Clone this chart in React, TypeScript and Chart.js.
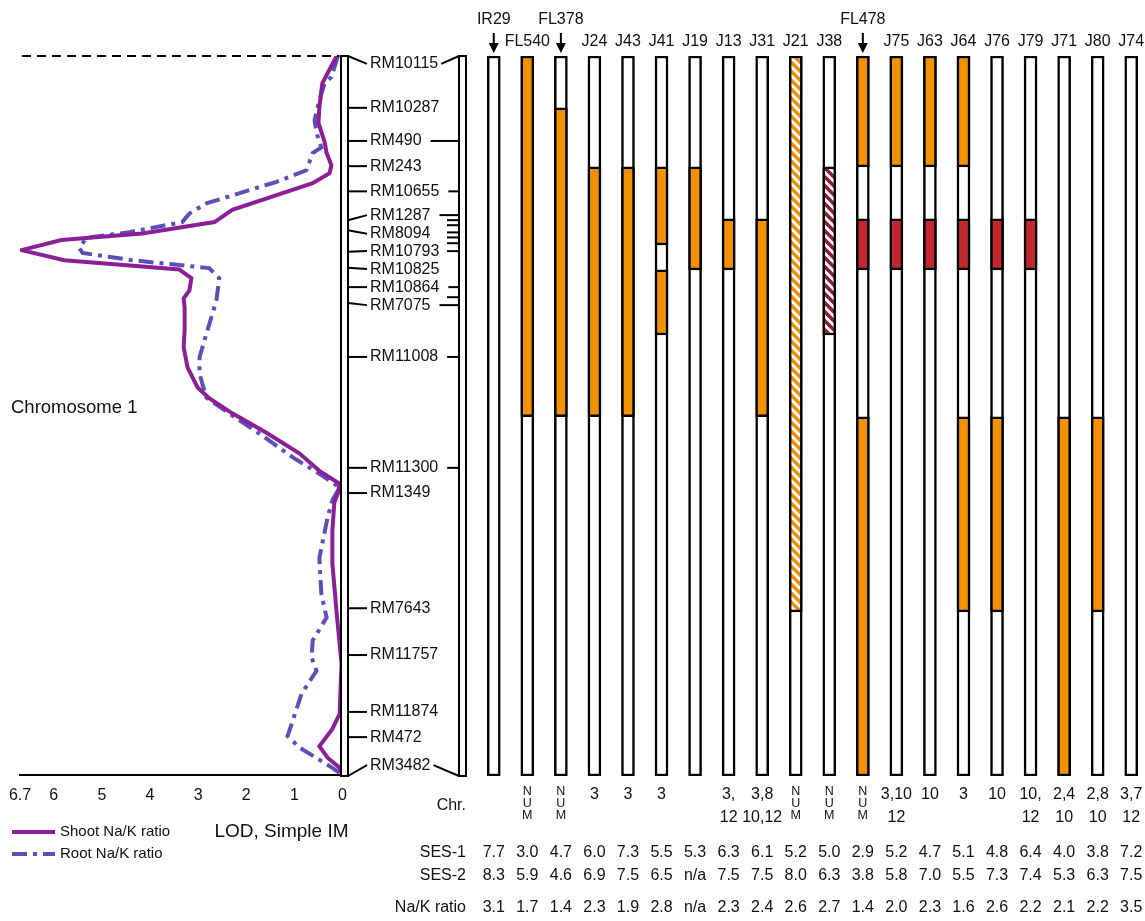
import React, { useEffect, useRef } from "react";
import { Chart, registerables } from "chart.js";

Chart.register(...registerables);

const FONT = '"Liberation Sans", Arial, Helvetica, sans-serif';

// ---- LOD profiles (position along chromosome 0 = top … 100 = bottom) ----
const SHOOT_POS = [0, 2.4, 3.8, 7.1, 9.3, 12.0, 13.5, 15.2, 16.3, 17.7, 21.4, 23.1, 24.7, 25.6, 27.0, 28.4, 29.7, 30.9, 32.6, 33.7, 35.0, 38.2, 40.5, 43.3, 46.1, 47.6, 49.7, 52.4, 55.3, 57.7, 59.5, 60.9, 62.1, 66.0, 70.6, 77.6, 84.5, 91.5, 93.6, 96.0, 97.6, 99.0, 100];
const SHOOT_LOD = [0.12, 0.31, 0.42, 0.48, 0.5, 0.37, 0.33, 0.23, 0.27, 0.62, 2.29, 2.66, 4.16, 5.84, 6.67, 5.78, 3.39, 3.14, 3.18, 3.3, 3.28, 3.28, 3.3, 3.22, 3.01, 2.77, 2.29, 1.58, 0.89, 0.48, 0.06, 0.1, 0.17, 0.21, 0.21, 0.12, 0.02, 0.06, 0.21, 0.48, 0.31, 0.06, 0];
const ROOT_POS = [0.1, 2.9, 3.8, 6.1, 8.9, 10.7, 12.7, 13.5, 15.9, 17.5, 20.5, 21.9, 23.1, 24.5, 25.3, 26.7, 27.4, 28.4, 29.5, 30.9, 34.0, 35.8, 39.6, 41.9, 44.2, 47.5, 50.0, 52.5, 55.8, 58.1, 60.0, 61.8, 64.2, 69.8, 74.8, 78.1, 81.3, 83.7, 85.5, 88.7, 94.6, 96.2, 99.0, 100];
const ROOT_LOD = [0.1, 0.23, 0.37, 0.48, 0.58, 0.54, 0.44, 0.62, 0.75, 1.37, 2.83, 3.18, 3.33, 4.43, 5.32, 5.47, 5.4, 4.37, 2.77, 2.56, 2.62, 2.7, 2.87, 2.97, 2.97, 2.83, 2.29, 1.73, 1.04, 0.48, 0.06, 0.21, 0.31, 0.48, 0.44, 0.33, 0.62, 0.64, 0.54, 0.85, 1.14, 0.89, 0.21, 0];
const LOD_TICKS = [6.7, 6, 5, 4, 3, 2, 1, 0];

// ---- markers ----
const MARKERS = ["RM10115", "RM10287", "RM490", "RM243", "RM10655", "RM1287", "RM8094", "RM10793", "RM10825", "RM10864", "RM7075", "RM11008", "RM11300", "RM1349", "RM7643", "RM11757", "RM11874", "RM472", "RM3482"];
const MARKER_POS = [0, 7.2, 11.8, 15.3, 18.8, 22.8, 24.2, 27.2, 29.4, 32.1, 34.3, 41.8, 57.2, 60.7, 76.7, 83.2, 91.1, 94.6, 100];
const MARKER_LABEL_POS = [1.1, 7.2, 11.8, 15.3, 18.8, 22.1, 24.7, 27.1, 29.6, 32.1, 34.6, 41.8, 57.2, 60.7, 76.7, 83.2, 91.1, 94.6, 98.5];
const RIGHT_MAP_POS = [0, 11.8, 18.8, 22.1, 22.8, 23.5, 24.5, 25.2, 26.0, 27.1, 32.1, 33.5, 34.6, 41.8, 57.2, 100];
const RIGHT_MAP_MARKER = ["RM10115", "RM490", "RM10655", "RM1287", "", "", "", "", "", "", "RM10864", "", "RM7075", "RM11008", "RM11300", "RM3482"];

// ---- genotypes ----
const COLUMNS = ["IR29", "FL540", "FL378", "J24", "J43", "J41", "J19", "J13", "J31", "J21", "J38", "FL478", "J75", "J63", "J64", "J76", "J79", "J71", "J80", "J74"];
const ARROWED = ["IR29", "FL378", "FL478"];
const SEG_A = [null, [0, 50.1], [7.2, 50.1], [15.4, 50.1], [15.4, 50.1], [15.4, 26.25], [15.4, 29.7], [22.6, 29.7], [22.6, 50.1], [0, 77.2], [15.4, 38.75], [0, 15.4], [0, 15.4], [0, 15.4], [0, 15.4], [22.6, 29.7], [22.6, 29.7], [50.1, 100], [50.1, 77.2], null];
const TYPE_A = ["", "O", "O", "O", "O", "O", "O", "O", "O", "OH", "RH", "O", "O", "O", "O", "R", "R", "O", "O", ""];
const SEG_B = [null, null, null, null, null, [29.7, 38.75], null, null, null, null, null, [22.6, 29.7], [22.6, 29.7], [22.6, 29.7], [22.6, 29.7], [50.1, 77.2], null, null, null, null];
const TYPE_B = ["", "", "", "", "", "O", "", "", "", "", "", "R", "R", "R", "R", "O", "", "", "", ""];
const SEG_C = [null, null, null, null, null, null, null, null, null, null, null, [50.1, 100], null, null, [50.1, 77.2], null, null, null, null, null];
const TYPE_C = ["", "", "", "", "", "", "", "", "", "", "", "O", "", "", "O", "", "", "", "", ""];

// ---- table rows ----
const CHR_1 = ["", "NUM", "NUM", "3", "3", "3", "", "3,", "3,8", "NUM", "NUM", "NUM", "3,10", "10", "3", "10", "10,", "2,4", "2,8", "3,7"];
const CHR_2 = ["", "", "", "", "", "", "", "12", "10,12", "", "", "", "12", "", "", "", "12", "10", "10", "12"];
const SES_1 = [7.7, 3.0, 4.7, 6.0, 7.3, 5.5, 5.3, 6.3, 6.1, 5.2, 5.0, 2.9, 5.2, 4.7, 5.1, 4.8, 6.4, 4.0, 3.8, 7.2];
const SES_2 = [8.3, 5.9, 4.6, 6.9, 7.5, 6.5, null, 7.5, 7.5, 8.0, 6.3, 3.8, 5.8, 7.0, 5.5, 7.3, 7.4, 5.3, 6.3, 7.5];
const NAK_RATIO = [3.1, 1.7, 1.4, 2.3, 1.9, 2.8, null, 2.3, 2.4, 2.6, 2.7, 1.4, 2.0, 2.3, 1.6, 2.6, 2.2, 2.1, 2.2, 3.5];

const ORANGE = "#f39200";
const RED = "#c1272d";
const MAROON = "#8e1b3a";
const SHOOT_COLOR = "#8a1f98";
const ROOT_COLOR = "#5b4fb8";

function stripe(color: string) {
  const n = 9;
  const c = document.createElement("canvas");
  c.width = n;
  c.height = n;
  const g = c.getContext("2d")!;
  g.fillStyle = "#fff";
  g.fillRect(0, 0, n, n);
  g.strokeStyle = color;
  g.lineWidth = 3.5;
  g.beginPath();
  g.moveTo(-3, -3);
  g.lineTo(n + 3, n + 3);
  g.moveTo(-3, n - 3);
  g.lineTo(3, n + 3);
  g.moveTo(n - 3, -3);
  g.lineTo(n + 3, 3);
  g.stroke();
  return g.createPattern(c, "repeat");
}

const fmt = (v: number | null) => (v == null ? "n/a" : v.toFixed(1));

const lodDecor = {
  id: "lodDecor",
  afterDraw(chart: any) {
    const { ctx, chartArea: a } = chart;
    ctx.save();
    ctx.strokeStyle = "#000";
    ctx.lineWidth = 2;
    ctx.setLineDash([9, 6]);
    ctx.beginPath();
    ctx.moveTo(a.left + 2, a.top);
    ctx.lineTo(a.right - 3, a.top);
    ctx.stroke();
    ctx.setLineDash([]);
    ctx.fillStyle = "#111";
    ctx.textBaseline = "middle";
    ctx.font = `18.5px ${FONT}`;
    ctx.textAlign = "left";
    ctx.fillText("Chromosome 1", 11, a.top + 352);
    ctx.font = `19px ${FONT}`;
    ctx.textAlign = "right";
    ctx.fillText("LOD, Simple IM", a.right + 6, a.bottom + 57);
    chart.data.datasets.forEach((ds: any, i: number) => {
      const y = a.bottom + 57 + i * 22;
      ctx.strokeStyle = ds.borderColor;
      ctx.lineWidth = 4;
      ctx.setLineDash(ds.borderDash || []);
      ctx.beginPath();
      ctx.moveTo(12, y);
      ctx.lineTo(55, y);
      ctx.stroke();
      ctx.setLineDash([]);
      ctx.fillStyle = "#111";
      ctx.font = `15px ${FONT}`;
      ctx.textAlign = "left";
      ctx.fillText(ds.label, 60, y);
    });
    ctx.restore();
  },
};

const mapDecor = {
  id: "mapDecor",
  afterDraw(chart: any) {
    const { ctx, chartArea: a, scales } = chart;
    const py = (v: number) => scales.y.getPixelForValue(v);
    const colX = (i: number) => scales.x.getPixelForValue(i);
    const leftBar = a.left - 136;
    const rightBar = a.left - 18;
    const labelX = leftBar + 29;
    ctx.save();
    ctx.font = `16px ${FONT}`;
    [leftBar, rightBar].forEach((bx) => {
      ctx.fillStyle = "#fff";
      ctx.fillRect(bx, py(0), 7, py(100) - py(0));
      ctx.strokeStyle = "#000";
      ctx.lineWidth = 2;
      ctx.strokeRect(bx, py(0), 7, py(100) - py(0));
    });
    ctx.fillStyle = "#111";
    ctx.textBaseline = "middle";
    ctx.textAlign = "left";
    ctx.lineWidth = 2;
    ctx.strokeStyle = "#000";
    MARKERS.forEach((m, i) => {
      ctx.beginPath();
      ctx.moveTo(leftBar + 7, py(MARKER_POS[i]));
      ctx.lineTo(leftBar + 26, py(MARKER_LABEL_POS[i]));
      ctx.stroke();
      ctx.fillText(m, labelX, py(MARKER_LABEL_POS[i]));
    });
    RIGHT_MAP_POS.forEach((p, i) => {
      const name = RIGHT_MAP_MARKER[i];
      let sx = rightBar - 12;
      let sy = py(p);
      if (name) {
        const k = MARKERS.indexOf(name);
        const lp = MARKER_LABEL_POS[k];
        const w = ctx.measureText(name).width;
        sy = py(lp);
        sx = labelX + w + (lp !== p ? 3 : 9);
      }
      ctx.beginPath();
      ctx.moveTo(sx, sy);
      ctx.lineTo(rightBar, py(p));
      ctx.stroke();
    });
    ctx.textAlign = "center";
    COLUMNS.forEach((c, i) => {
      const x = colX(i);
      if (ARROWED.includes(c)) {
        ctx.fillText(c, x, a.top - 36);
        ctx.beginPath();
        ctx.moveTo(x, a.top - 23);
        ctx.lineTo(x, a.top - 10);
        ctx.stroke();
        ctx.beginPath();
        ctx.moveTo(x - 5, a.top - 13);
        ctx.lineTo(x + 5, a.top - 13);
        ctx.lineTo(x, a.top - 3);
        ctx.closePath();
        ctx.fillStyle = "#000";
        ctx.fill();
        ctx.fillStyle = "#111";
      } else {
        ctx.fillText(c, x, a.top - 14);
      }
    });
    const b = a.bottom;
    ctx.textAlign = "right";
    const rl = a.left - 11;
    ctx.fillText("Chr.", rl, b + 30);
    ctx.fillText("SES-1", rl, b + 77);
    ctx.fillText("SES-2", rl, b + 100);
    ctx.fillText("Na/K ratio", rl, b + 132);
    ctx.textAlign = "center";
    COLUMNS.forEach((_, i) => {
      const x = colX(i);
      if (CHR_1[i] === "NUM") {
        ctx.font = `12.5px ${FONT}`;
        ["N", "U", "M"].forEach((ch, j) => ctx.fillText(ch, x, b + 16 + j * 12));
        ctx.font = `16px ${FONT}`;
      } else {
        if (CHR_1[i]) ctx.fillText(CHR_1[i], x, b + 19);
        if (CHR_2[i]) ctx.fillText(CHR_2[i], x, b + 42);
      }
      ctx.fillText(fmt(SES_1[i]), x, b + 77);
      ctx.fillText(fmt(SES_2[i]), x, b + 100);
      ctx.fillText(fmt(NAK_RATIO[i]), x, b + 132);
    });
    ctx.restore();
  },
};

export default function App() {
  const lodRef = useRef<HTMLCanvasElement>(null);
  const mapRef = useRef<HTMLCanvasElement>(null);

  useEffect(() => {
    const fills: Record<string, any> = {
      O: ORANGE,
      R: RED,
      OH: stripe(ORANGE),
      RH: stripe(MAROON),
      "": "rgba(0,0,0,0)",
    };

    const lodChart = new Chart(lodRef.current!, {
      type: "line",
      data: {
        datasets: [
          {
            label: "Shoot Na/K ratio",
            data: SHOOT_POS.map((p, i) => ({ x: SHOOT_LOD[i], y: p })),
            borderColor: SHOOT_COLOR,
            borderWidth: 4,
            pointRadius: 0,
            tension: 0,
            fill: false,
          },
          {
            label: "Root Na/K ratio",
            data: ROOT_POS.map((p, i) => ({ x: ROOT_LOD[i], y: p })),
            borderColor: ROOT_COLOR,
            borderWidth: 4,
            borderDash: [15, 6, 4, 6],
            pointRadius: 0,
            tension: 0,
            fill: false,
          },
        ],
      },
      options: {
        responsive: false,
        animation: false,
        layout: { padding: { left: 20, right: 17.5, top: 56, bottom: 0 } },
        plugins: { legend: { display: false }, tooltip: { enabled: false } },
        scales: {
          x: {
            type: "linear",
            reverse: true,
            min: 0,
            max: 6.7,
            afterBuildTicks: (s: any) => {
              s.ticks = LOD_TICKS.map((v) => ({ value: v }));
            },
            afterFit: (s: any) => {
              s.height = 146;
            },
            grid: { display: false },
            border: { display: true, color: "#000", width: 2 },
            ticks: {
              autoSkip: false,
              maxRotation: 0,
              padding: 3,
              color: "#111",
              font: { family: FONT, size: 16 },
              callback: (v: any) => String(v),
            },
          },
          y: { type: "linear", reverse: true, min: 0, max: 100, display: false },
        },
      } as any,
      plugins: [lodDecor],
    });

    const barDefaults = {
      borderColor: "#000",
      borderWidth: 2.5,
      borderSkipped: false,
      barThickness: 13,
    };
    const toPoints = (seg: any[]) => seg.map((s, i) => ({ x: COLUMNS[i], y: s }));

    const mapChart = new Chart(mapRef.current!, {
      type: "bar",
      data: {
        labels: COLUMNS,
        datasets: [
          // higher order = drawn first (underneath)
          { ...barDefaults, order: 3, data: toPoints(COLUMNS.map(() => [0, 100])), backgroundColor: "#fff" },
          { ...barDefaults, order: 2, data: toPoints(SEG_A), backgroundColor: TYPE_A.map((t) => fills[t]) },
          { ...barDefaults, order: 1, data: toPoints(SEG_B), backgroundColor: TYPE_B.map((t) => fills[t]) },
          { ...barDefaults, order: 0, data: toPoints(SEG_C), backgroundColor: TYPE_C.map((t) => fills[t]) },
        ] as any,
      },
      options: {
        responsive: false,
        animation: false,
        layout: { padding: { left: 477, right: 0, top: 56, bottom: 145 } },
        plugins: { legend: { display: false }, tooltip: { enabled: false } },
        scales: {
          x: { display: false, stacked: true },
          y: { display: false, stacked: false, min: 0, max: 100, reverse: true },
        },
      } as any,
      plugins: [mapDecor],
    });

    return () => {
      lodChart.destroy();
      mapChart.destroy();
    };
  }, []);

  return (
    <div
      style={{
        position: "absolute",
        left: 0,
        top: 0,
        width: 1145,
        height: 921,
        overflow: "hidden",
        background: "#fff",
      }}
    >
      <canvas ref={lodRef} width={360} height={921} style={{ position: "absolute", left: 0, top: 0 }} />
      <canvas ref={mapRef} width={1148} height={921} style={{ position: "absolute", left: 0, top: 0 }} />
    </div>
  );
}
